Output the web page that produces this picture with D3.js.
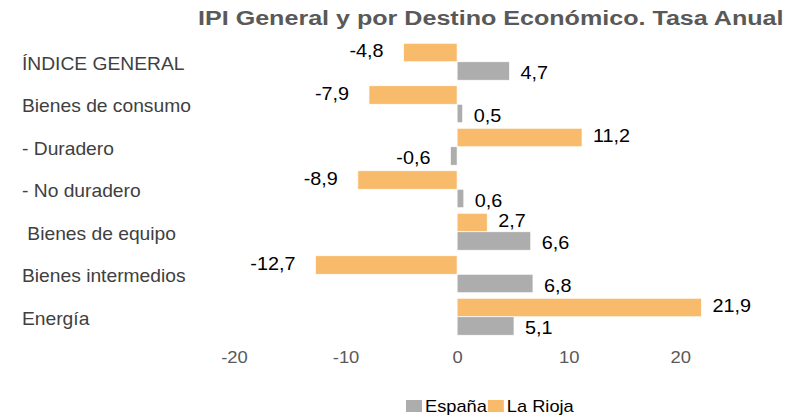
<!DOCTYPE html>
<html>
<head>
<meta charset="utf-8">
<script src="https://cdn.jsdelivr.net/npm/d3@7"></script>
<style>
  body { margin: 0; background: #fff; }
  text { font-family: "Liberation Sans", Arial, sans-serif; }
  .title { font-weight: bold; font-size: 21px; fill: #595959; }
  .cat { font-size: 17.5px; fill: #404040; }
  .val { font-size: 18px; fill: #000; }
  .tick text { font-size: 16px; fill: #595959; }
  .legend { font-size: 16px; fill: #000; }
</style>
</head>
<body>
<svg width="805" height="415"></svg>
<script>
const categories = ['ÍNDICE GENERAL', 'Bienes de consumo', '- Duradero', '- No duradero', ' Bienes de equipo', 'Bienes intermedios', 'Energía'];
const series = ['La Rioja', 'España'];
const laRioja = [-4.8, -7.9, 11.2, -8.9, 2.7, -12.7, 21.9];
const espana = [4.7, 0.5, -0.6, 0.6, 6.6, 6.8, 5.1];
const xTicks = [-20, -10, 0, 10, 20];
const legendItems = ['España', 'La Rioja'];

const colors = {'La Rioja': '#F8BB6B', 'España': '#ADADAD'};

const svg = d3.select('svg');
const fmt = v => String(v).replace('.', ',');

// the reference text is wider than the font, so widen it with a transform
const stretch = k => sel => sel.each(function() {
  const t = d3.select(this);
  const x = +t.attr('x') || 0, y = +t.attr('y') || 0;
  t.attr('x', 0).attr('y', 0)
    .attr('transform', `translate(${x},${y}) scale(${k},1)`);
});

const xScale = d3.scaleLinear()
  .domain([-20, 25])
  .range([234, 736]);

const yScale = d3.scaleBand()
  .domain(categories)
  .range([40.5, 338])
  .paddingInner(0.13)
  .paddingOuter(0.065);

const ySub = d3.scaleBand()
  .domain(series)
  .range([0, yScale.bandwidth()]);

const data = categories.map((c, i) => ({
  cat: c,
  values: [
    {s: 'La Rioja', v: laRioja[i]},
    {s: 'España', v: espana[i]}
  ]
}));

const title = svg.append('text')
  .attr('class', 'title')
  .attr('x', 198)
  .attr('y', 25)
  .text('IPI General y por Destino Económico. Tasa Anual');
title.call(stretch(586 / title.node().getComputedTextLength()));

// category labels
svg.append('g').selectAll('text').data(categories)
  .enter().append('text')
    .attr('class', 'cat')
    .attr('x', 22)
    .attr('y', d => yScale(d) + yScale.bandwidth() / 2 + 8)
    .style('white-space', 'pre')
    .text(d => d)
    .call(stretch(1.1));

const groups = svg.append('g').selectAll('g').data(data)
  .enter().append('g')
    .attr('transform', d => `translate(0,${yScale(d.cat)})`);

groups.selectAll('rect').data(d => d.values)
  .enter().append('rect')
    .attr('x', d => xScale(Math.min(0, d.v)))
    .attr('y', d => ySub(d.s))
    .attr('width', d => Math.abs(xScale(d.v) - xScale(0)))
    .attr('height', ySub.bandwidth())
    .attr('fill', d => colors[d.s])
    .attr('stroke', '#fff')
    .attr('stroke-width', 0.7);

groups.selectAll('text').data(d => d.values)
  .enter().append('text')
    .attr('class', 'val')
    .attr('x', d => d.v >= 0 ? xScale(d.v) + 11 : xScale(d.v) - 20)
    .attr('y', d => ySub(d.s) + (d.s === 'La Rioja' ? 14 : 17.5))
    .attr('text-anchor', d => d.v >= 0 ? 'start' : 'end')
    .text(d => fmt(d.v))
    .call(stretch(1.1));

const xAxis = d3.axisBottom(xScale)
  .tickValues(xTicks)
  .tickFormat(d => String(d))
  .tickSize(0)
  .tickPadding(0);

const xAxisG = svg.append('g')
  .attr('transform', 'translate(0,352)')
  .call(xAxis);
xAxisG.select('.domain').remove();
xAxisG.selectAll('.tick text')
  .attr('dy', '0.71em')
  .attr('font-family', null)
  .attr('font-size', null)
  .attr('transform', 'scale(1.15,1)');

// legend
const legend = svg.append('g').attr('transform', 'translate(406,400)');
let lx = 0;
legendItems.forEach(name => {
  legend.append('rect')
    .attr('x', lx).attr('y', 0)
    .attr('width', 16).attr('height', 12)
    .attr('fill', colors[name]);
  const t = legend.append('text')
    .attr('class', 'legend')
    .attr('x', lx + 19).attr('y', 11.7)
    .text(name);
  const w = t.node().getComputedTextLength() * 1.14;
  t.call(stretch(1.14));
  lx += 19 + w + 1;
});
</script>
</body>
</html>
